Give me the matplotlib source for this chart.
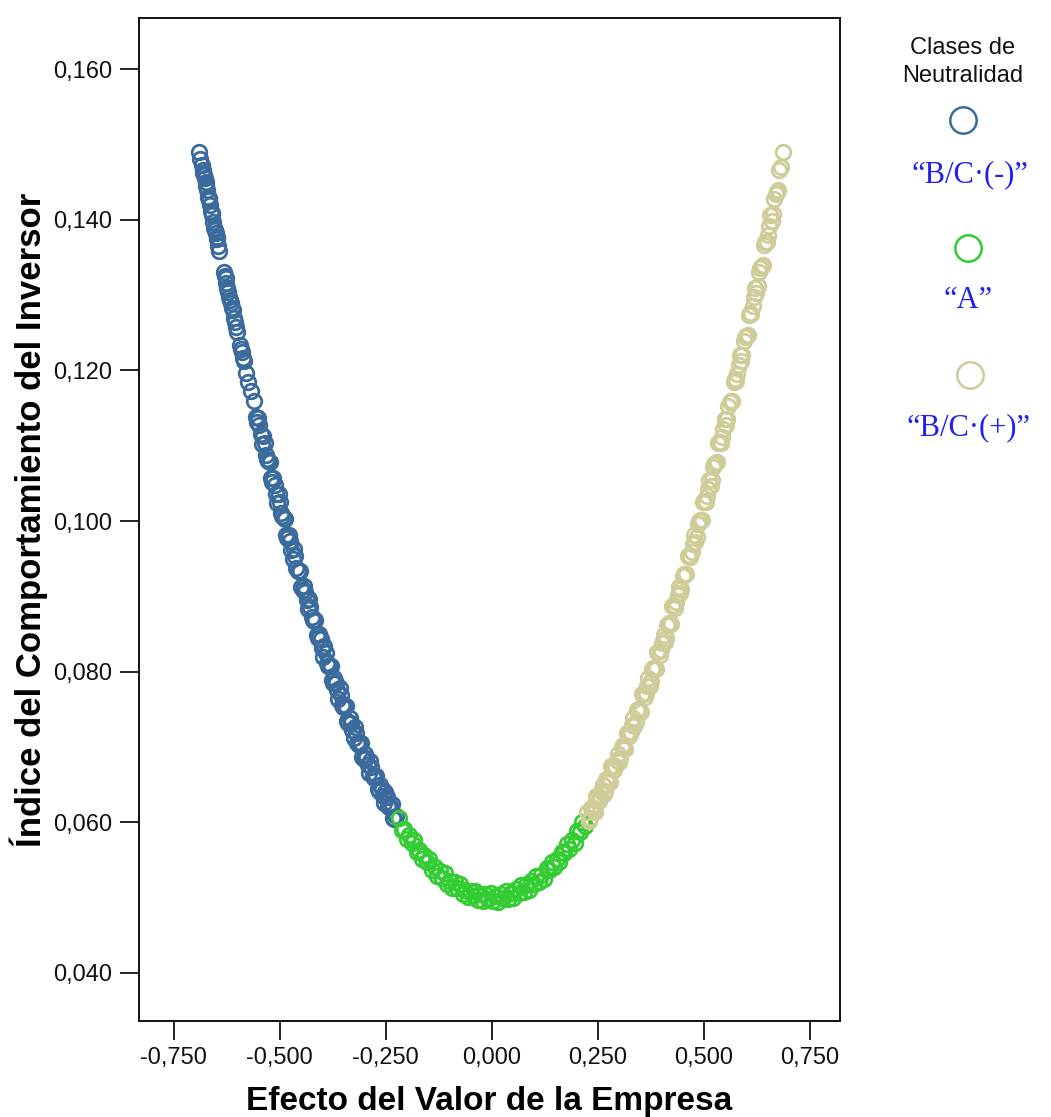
import matplotlib
matplotlib.use("Agg")
import matplotlib.pyplot as plt
from matplotlib.lines import Line2D
from matplotlib.ticker import FixedLocator, FuncFormatter

# ---------------- data ----------------
blue_x = [-0.690, -0.684, -0.680, -0.677, -0.674, -0.670, -0.666, -0.662, -0.659, -0.655,
          -0.651, -0.647, -0.643,
          -0.687, -0.682, -0.678, -0.675, -0.672, -0.668, -0.664, -0.660, -0.657, -0.653,
          -0.649, -0.645,
          -0.632, -0.628, -0.624, -0.620, -0.616, -0.611, -0.606, -0.602,
          -0.630, -0.626, -0.622, -0.618, -0.613, -0.608, -0.604,
          -0.594, -0.589, -0.585, -0.580, -0.574, -0.568, -0.591, -0.587,
          -0.560, -0.554, -0.548, -0.542, -0.536, -0.530, -0.524, -0.518, -0.512, -0.506,
          -0.500, -0.494, -0.488, -0.482, -0.476, -0.470, -0.464, -0.458, -0.452, -0.446,
          -0.440, -0.434, -0.428, -0.422, -0.416, -0.410, -0.404, -0.398, -0.392, -0.386,
          -0.380, -0.374, -0.368, -0.362, -0.356, -0.350, -0.344, -0.338, -0.332, -0.326,
          -0.320, -0.314, -0.308, -0.302, -0.296, -0.290, -0.284, -0.278, -0.272, -0.266,
          -0.260, -0.254, -0.248, -0.242, -0.236, -0.230, -0.225,
          -0.557, -0.551, -0.545, -0.539, -0.533, -0.527, -0.521, -0.515, -0.509, -0.503,
          -0.497, -0.491, -0.485, -0.479, -0.473, -0.467, -0.461, -0.455, -0.449, -0.443,
          -0.437, -0.431, -0.425, -0.419, -0.413, -0.407, -0.401, -0.395, -0.389, -0.383,
          -0.377, -0.371, -0.365, -0.359, -0.353, -0.347, -0.341, -0.335, -0.329, -0.323,
          -0.317, -0.311, -0.305, -0.299, -0.293, -0.287, -0.281, -0.275, -0.269, -0.263,
          -0.257, -0.251, -0.245, -0.239, -0.233]
blue_y = [0.1490, 0.1473, 0.1462, 0.1456, 0.1445, 0.1430, 0.1426, 0.1412, 0.1407, 0.1389,
          0.1382, 0.1374, 0.1358,
          0.1481, 0.1466, 0.1459, 0.1450, 0.1440, 0.1429, 0.1420, 0.1409, 0.1397, 0.1386,
          0.1377, 0.1365,
          0.1331, 0.1323, 0.1310, 0.1297, 0.1289, 0.1280, 0.1264, 0.1251,
          0.1326, 0.1316, 0.1304, 0.1294, 0.1283, 0.1270, 0.1258,
          0.1234, 0.1225, 0.1212, 0.1197, 0.1185, 0.1173, 0.1228, 0.1217,
          0.1160, 0.1132, 0.1128, 0.1102, 0.1103, 0.1082, 0.1079, 0.1052, 0.1048, 0.1024,
          0.1025, 0.1006, 0.1003, 0.0977, 0.0974, 0.0950, 0.0953, 0.0934, 0.0933, 0.0908,
          0.0906, 0.0883, 0.0886, 0.0868, 0.0868, 0.0844, 0.0843, 0.0820, 0.0825, 0.0808,
          0.0808, 0.0785, 0.0785, 0.0764, 0.0769, 0.0753, 0.0754, 0.0732, 0.0732, 0.0712,
          0.0718, 0.0703, 0.0705, 0.0684, 0.0685, 0.0666, 0.0673, 0.0659, 0.0662, 0.0641,
          0.0644, 0.0625, 0.0633, 0.0620, 0.0624, 0.0604, 0.0608,
          0.1138, 0.1137, 0.1115, 0.1113, 0.1087, 0.1080, 0.1057, 0.1057, 0.1036, 0.1036,
          0.1010, 0.1004, 0.0982, 0.0982, 0.0962, 0.0963, 0.0938, 0.0933, 0.0913, 0.0914,
          0.0895, 0.0896, 0.0872, 0.0867, 0.0848, 0.0850, 0.0832, 0.0834, 0.0811, 0.0807,
          0.0789, 0.0792, 0.0775, 0.0778, 0.0756, 0.0753, 0.0735, 0.0739, 0.0722, 0.0726,
          0.0705, 0.0703, 0.0687, 0.0691, 0.0676, 0.0681, 0.0661, 0.0660, 0.0644, 0.0649,
          0.0635, 0.0640, 0.0621, 0.0621, 0.0606]

green_x = [-0.219, -0.213, -0.207, -0.201, -0.195, -0.189, -0.183, -0.177, -0.171, -0.165,
           -0.159, -0.153, -0.147, -0.141, -0.135, -0.129, -0.123, -0.117, -0.111, -0.105,
           -0.099, -0.093, -0.087, -0.081, -0.075, -0.069, -0.063, -0.057, -0.051, -0.045,
           -0.039, -0.033, -0.027, -0.021, -0.015, -0.009, -0.003,
           0.003, 0.009, 0.015, 0.021, 0.027, 0.033, 0.039, 0.045, 0.051, 0.057,
           0.063, 0.069, 0.075, 0.081, 0.087, 0.093, 0.099, 0.105, 0.111, 0.117,
           0.123, 0.129, 0.135, 0.141, 0.147, 0.153, 0.159, 0.165, 0.171, 0.177,
           0.183, 0.189, 0.195, 0.201, 0.207, 0.213, 0.219]
green_y = [0.0606, 0.0589, 0.0591, 0.0578, 0.0583, 0.0572, 0.0576, 0.0560, 0.0563, 0.0551,
           0.0557, 0.0547, 0.0551, 0.0536, 0.0540, 0.0529, 0.0535, 0.0526, 0.0532, 0.0518,
           0.0522, 0.0512, 0.0520, 0.0512, 0.0518, 0.0505, 0.0510, 0.0501, 0.0509, 0.0502,
           0.0509, 0.0497, 0.0504, 0.0495, 0.0504, 0.0498, 0.0506,
           0.0495, 0.0502, 0.0494, 0.0505, 0.0500, 0.0508, 0.0498, 0.0506, 0.0499, 0.0511,
           0.0506, 0.0516, 0.0507, 0.0516, 0.0510, 0.0522, 0.0518, 0.0529, 0.0521, 0.0530,
           0.0525, 0.0539, 0.0536, 0.0547, 0.0540, 0.0551, 0.0547, 0.0561, 0.0559, 0.0571,
           0.0565, 0.0576, 0.0573, 0.0588, 0.0587, 0.0600, 0.0595]

tan_x = [0.225, 0.231, 0.237, 0.243, 0.249, 0.255, 0.261, 0.267, 0.273, 0.279,
         0.285, 0.291, 0.297, 0.303, 0.309, 0.315, 0.321, 0.327, 0.333, 0.339,
         0.345, 0.351, 0.357, 0.363, 0.369, 0.375, 0.381, 0.387, 0.393, 0.399,
         0.405, 0.411, 0.417, 0.423, 0.429, 0.435, 0.441, 0.447, 0.453, 0.459,
         0.465, 0.471, 0.477, 0.483, 0.489, 0.495, 0.501, 0.507, 0.513, 0.519,
         0.525, 0.531, 0.537, 0.543, 0.549, 0.555, 0.561, 0.567, 0.573, 0.579,
         0.585, 0.591, 0.597, 0.603, 0.609, 0.615, 0.621, 0.627, 0.633, 0.639,
         0.645, 0.651, 0.657, 0.663, 0.669, 0.675, 0.681, 0.686,
         0.228, 0.234, 0.240, 0.246, 0.252, 0.258, 0.264, 0.270, 0.276, 0.282,
         0.288, 0.294, 0.300, 0.306, 0.312, 0.318, 0.324, 0.330, 0.336, 0.342,
         0.348, 0.354, 0.360, 0.366, 0.372, 0.378, 0.384, 0.390, 0.396, 0.402,
         0.408, 0.414, 0.420, 0.426, 0.432, 0.438, 0.444, 0.450, 0.456, 0.462,
         0.468, 0.474, 0.480, 0.486, 0.492, 0.498, 0.504, 0.510, 0.516, 0.522,
         0.528, 0.534, 0.540, 0.546, 0.552, 0.558, 0.564, 0.570, 0.576, 0.582,
         0.588, 0.594, 0.600, 0.606, 0.612, 0.618, 0.624, 0.630, 0.636, 0.642,
         0.648, 0.654, 0.660, 0.666, 0.672, 0.678]
tan_y = [0.0613, 0.0605, 0.0620, 0.0614, 0.0634, 0.0633, 0.0650, 0.0642, 0.0658, 0.0653,
         0.0674, 0.0674, 0.0691, 0.0685, 0.0702, 0.0697, 0.0719, 0.0720, 0.0739, 0.0733,
         0.0751, 0.0747, 0.0770, 0.0772, 0.0791, 0.0787, 0.0805, 0.0803, 0.0826, 0.0829,
         0.0849, 0.0845, 0.0865, 0.0863, 0.0888, 0.0892, 0.0913, 0.0910, 0.0930, 0.0929,
         0.0955, 0.0959, 0.0981, 0.0979, 0.1000, 0.1001, 0.1027, 0.1033, 0.1055, 0.1054,
         0.1076, 0.1078, 0.1105, 0.1111, 0.1135, 0.1135, 0.1158, 0.1160, 0.1188, 0.1195,
         0.1220, 0.1221, 0.1244, 0.1247, 0.1276, 0.1285, 0.1310, 0.1312, 0.1336, 0.1340,
         0.1370, 0.1380, 0.1406, 0.1408, 0.1434, 0.1439, 0.1470, 0.1490,
         0.0601, 0.0619, 0.0617, 0.0635, 0.0628, 0.0641, 0.0638, 0.0657, 0.0656, 0.0675,
         0.0669, 0.0682, 0.0680, 0.0700, 0.0700, 0.0719, 0.0714, 0.0729, 0.0728, 0.0749,
         0.0749, 0.0770, 0.0766, 0.0781, 0.0781, 0.0803, 0.0804, 0.0826, 0.0822, 0.0838,
         0.0839, 0.0862, 0.0864, 0.0887, 0.0885, 0.0902, 0.0904, 0.0927, 0.0930, 0.0953,
         0.0952, 0.0969, 0.0972, 0.0996, 0.1001, 0.1025, 0.1025, 0.1043, 0.1047, 0.1072,
         0.1077, 0.1103, 0.1103, 0.1122, 0.1127, 0.1153, 0.1159, 0.1185, 0.1186, 0.1207,
         0.1213, 0.1239, 0.1246, 0.1273, 0.1275, 0.1297, 0.1303, 0.1331, 0.1338, 0.1366,
         0.1370, 0.1392, 0.1399, 0.1428, 0.1437, 0.1466]

x_ticks = [-0.75, -0.5, -0.25, 0.0, 0.25, 0.5, 0.75]
y_ticks = [0.04, 0.06, 0.08, 0.10, 0.12, 0.14, 0.16]

class_labels = ["\u201cB/C\u00b7(-)\u201d", "\u201cA\u201d", "\u201cB/C\u00b7(+)\u201d"]
class_colors = ["#3b6b9c", "#33cc33", "#cfcc9a"]
legend_title = "Clases de\nNeutralidad"
x_label = "Efecto del Valor de la Empresa"
y_label = "\u00cdndice del Comportamiento del Inversor"

# ---------------- figure ----------------
plt.rcParams["font.family"] = ["Liberation Sans", "DejaVu Sans"]

fig = plt.figure(figsize=(10.51, 11.17), dpi=100)
ax = fig.add_axes([139 / 1051, 1 - 1021 / 1117, (840 - 139) / 1051, (1021 - 18) / 1117])

series = [(blue_x, blue_y), (green_x, green_y), (tan_x, tan_y)]
for (xs, ys), col in zip(series, class_colors):
    ax.plot(xs, ys, linestyle="none", marker="o", markersize=10.5,
            markerfacecolor="none", markeredgecolor=col, markeredgewidth=2.0)

ax.set_xlim(-0.832, 0.821)
ax.set_ylim(0.0336, 0.1668)

ax.xaxis.set_major_locator(FixedLocator(x_ticks))
ax.yaxis.set_major_locator(FixedLocator(y_ticks))
fmt = FuncFormatter(lambda v, p: ("%.3f" % v).replace(".", ","))
ax.xaxis.set_major_formatter(fmt)
ax.yaxis.set_major_formatter(fmt)

ax.tick_params(axis="both", direction="out", length=14, width=1.3,
               labelsize=17, colors="#111111")
ax.tick_params(axis="x", pad=5)
ax.tick_params(axis="y", pad=5)
for sp in ax.spines.values():
    sp.set_linewidth(1.4)
    sp.set_color("#111111")

ax.set_xlabel(x_label, fontsize=24, fontweight="bold", labelpad=12)
ax.set_ylabel(y_label, fontsize=25, fontweight="bold", labelpad=4)

# ---------------- legend (drawn manually) ----------------
fig.text(963 / 1051, 1 - 62 / 1117, legend_title, ha="center", va="center",
         fontsize=17, linespacing=1.35, color="#111111")

marker_pos = [(963, 120), (968, 248), (970, 375)]
label_pos = [(970, 175), (968, 300), (968, 428)]
for (mx, my), (lx, ly), lab, col in zip(marker_pos, label_pos, class_labels, class_colors):
    fig.add_artist(Line2D([mx / 1051], [1 - my / 1117], transform=fig.transFigure,
                          linestyle="none", marker="o", markersize=19,
                          markerfacecolor="none", markeredgecolor=col, markeredgewidth=1.8))
    fig.text(lx / 1051, 1 - ly / 1117, lab, ha="center", va="center",
             fontsize=22, color="#1f1ff0", family=["Liberation Serif", "DejaVu Serif"])

fig.savefig("out.png", dpi=100, facecolor="white")
